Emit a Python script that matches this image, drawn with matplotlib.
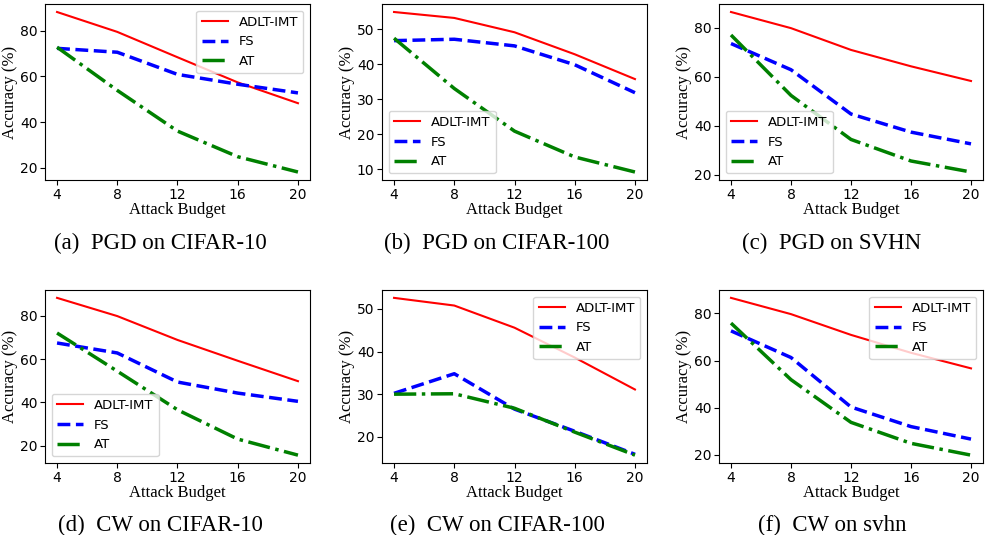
import matplotlib.pyplot as plt

budgets = [4, 8, 12, 16, 20]

# PGD results
pgd_c10_adlt = [88.2, 79.5, 68.4, 57.4, 48.3]
pgd_c10_fs = [72.3, 70.6, 60.9, 56.6, 52.8]
pgd_c10_at = [72.8, 53.9, 36.1, 24.9, 18.2]

pgd_c100_adlt = [55.0, 53.3, 49.2, 42.9, 35.8]
pgd_c100_fs = [46.8, 47.2, 45.3, 39.9, 31.9]
pgd_c100_at = [47.5, 33.1, 20.9, 13.5, 9.2]

pgd_svhn_adlt = [86.5, 79.9, 71.0, 64.3, 58.3]
pgd_svhn_fs = [73.6, 62.9, 44.8, 37.4, 32.6]
pgd_svhn_at = [77.1, 52.4, 34.4, 25.6, 21.1]

# CW results
cw_c10_adlt = [88.2, 79.8, 68.8, 59.2, 49.8]
cw_c10_fs = [67.4, 62.8, 49.4, 44.3, 40.5]
cw_c10_at = [72.0, 54.4, 36.6, 23.1, 15.7]

cw_c100_adlt = [52.6, 50.8, 45.6, 38.6, 31.1]
cw_c100_fs = [30.2, 34.8, 26.5, 21.3, 15.9]
cw_c100_at = [30.0, 30.1, 26.7, 21.1, 15.7]

cw_svhn_adlt = [86.6, 79.7, 70.9, 63.3, 56.7]
cw_svhn_fs = [72.6, 61.3, 40.3, 32.0, 26.7]
cw_svhn_at = [75.9, 51.9, 33.8, 24.9, 19.9]

captions = ["(a)  PGD on CIFAR-10", "(b)  PGD on CIFAR-100", "(c)  PGD on SVHN",
            "(d)  CW on CIFAR-10", "(e)  CW on CIFAR-100", "(f)  CW on svhn"]
legend_locs = ["upper right", "lower left", "lower left",
               "lower left", "upper right", "upper right"]

panels = [
    (pgd_c10_adlt, pgd_c10_fs, pgd_c10_at),
    (pgd_c100_adlt, pgd_c100_fs, pgd_c100_at),
    (pgd_svhn_adlt, pgd_svhn_fs, pgd_svhn_at),
    (cw_c10_adlt, cw_c10_fs, cw_c10_at),
    (cw_c100_adlt, cw_c100_fs, cw_c100_at),
    (cw_svhn_adlt, cw_svhn_fs, cw_svhn_at),
]

W, H = 985, 535
fig = plt.figure(figsize=(W / 100, H / 100), dpi=100)

# axes boxes in pixels: left, top, right, bottom
lefts = [45, 382, 719]
rights = [310, 647, 983]
tops = [4, 290]
bottoms = [180, 463]
cap_x = [160, 497, 832]
cap_y = [243, 525]

serif = "Liberation Serif"

for i, (adlt, fs, at) in enumerate(panels):
    r, c = divmod(i, 3)
    l, rt, t, b = lefts[c], rights[c], tops[r], bottoms[r]
    ax = fig.add_axes([l / W, 1 - b / H, (rt - l) / W, (b - t) / H])
    ax.plot(budgets, adlt, color="red", lw=1.5, label="ADLT-IMT")
    ax.plot(budgets, fs, color="blue", lw=2.5, ls="--", label="FS")
    ax.plot(budgets, at, color="green", lw=2.5, ls="-.", label="AT")
    ax.set_xticks(budgets)
    ax.tick_params(labelsize=10, pad=2)
    ax.set_xlabel("Attack Budget", family=serif, fontsize=12, labelpad=0)
    ax.set_ylabel("Accuracy (%)", family=serif, fontsize=12, labelpad=1)
    ax.legend(loc=legend_locs[i], fontsize=9.5)
    fig.text(cap_x[c] / W, 1 - cap_y[r] / H, captions[i], family=serif,
             fontsize=16.5, ha="center", va="center")

fig.savefig("out.png", dpi=100)
